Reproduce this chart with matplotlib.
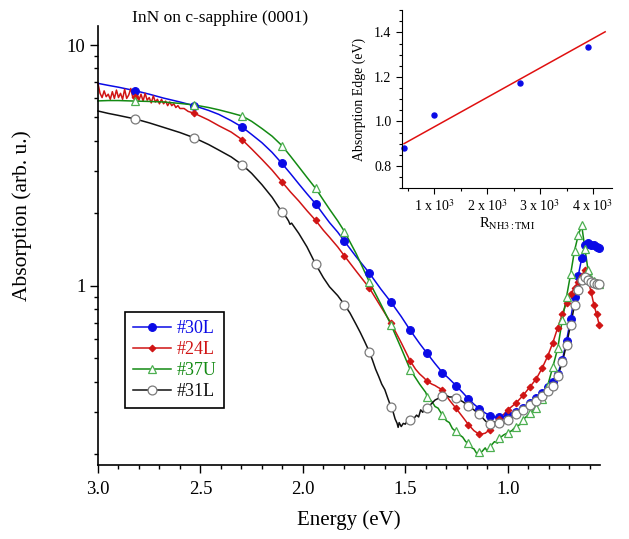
import numpy as np
import matplotlib
matplotlib.use('Agg')
import matplotlib.pyplot as plt
from matplotlib.lines import Line2D
from matplotlib.ticker import MultipleLocator, NullFormatter, FixedLocator, LogLocator, FormatStrFormatter

plt.rcParams['font.family'] = ['Liberation Serif', 'DejaVu Serif']
plt.rcParams['mathtext.fontset'] = 'stix'

# photon energies (eV) where the symbols sit
marker_e = [2.818, 2.531, 2.296, 2.102, 1.938, 1.797, 1.676, 1.570, 1.476, 1.393,
            1.319, 1.253, 1.192, 1.138, 1.088, 1.042, 1.000, 0.961, 0.925, 0.892,
            0.861, 0.832, 0.805, 0.780, 0.756, 0.734, 0.713, 0.693, 0.674, 0.656,
            0.639, 0.623, 0.608, 0.593, 0.579, 0.566, 0.554]

# #30L
e30 = [3.00, 2.95, 2.90, 2.818, 2.75, 2.68, 2.60, 2.531, 2.46, 2.41, 2.35, 2.296, 2.25, 2.20,
       2.15, 2.102, 2.06, 2.02, 1.98, 1.938, 1.90, 1.87, 1.83, 1.797, 1.74, 1.676, 1.62, 1.570,
       1.52, 1.476, 1.43, 1.393, 1.355, 1.319, 1.285, 1.253, 1.22, 1.192, 1.165, 1.138, 1.11,
       1.088, 1.065, 1.042, 1.02, 1.000, 0.961, 0.925, 0.892, 0.861, 0.832, 0.805, 0.780, 0.756,
       0.734, 0.713, 0.693, 0.674, 0.656, 0.639, 0.623, 0.608, 0.593, 0.579, 0.566, 0.554]
a30 = [6.93, 6.80, 6.68, 6.46, 6.25, 6.02, 5.80, 5.60, 5.35, 5.15, 4.85, 4.56, 4.25, 3.93,
       3.58, 3.22, 2.92, 2.65, 2.41, 2.19, 1.98, 1.83, 1.67, 1.53, 1.32, 1.13, 0.97, 0.855,
       0.745, 0.653, 0.575, 0.523, 0.475, 0.436, 0.41, 0.385, 0.36, 0.339, 0.322, 0.308, 0.296,
       0.289, 0.284, 0.285, 0.287, 0.29, 0.30, 0.311, 0.325, 0.343, 0.36, 0.378, 0.40, 0.43,
       0.49, 0.59, 0.73, 0.90, 1.10, 1.30, 1.47, 1.50, 1.48, 1.47, 1.45, 1.43]

# #24L
e24 = [3.00, 2.99, 2.98, 2.97, 2.96, 2.95, 2.94, 2.93, 2.92, 2.91, 2.90, 2.89, 2.88, 2.87,
       2.86, 2.85, 2.84, 2.83, 2.818, 2.81, 2.80, 2.79, 2.78, 2.77, 2.76, 2.75, 2.74, 2.73,
       2.72, 2.71, 2.70, 2.69, 2.68, 2.67, 2.66, 2.65, 2.64, 2.63, 2.62, 2.61, 2.60, 2.58,
       2.56, 2.531, 2.46, 2.41, 2.35, 2.296, 2.25, 2.20, 2.15, 2.102, 2.06, 2.02, 1.98, 1.938,
       1.90, 1.87, 1.83, 1.797, 1.74, 1.676, 1.62, 1.570, 1.52, 1.476, 1.45, 1.43, 1.41, 1.393,
       1.37, 1.355, 1.34, 1.319, 1.30, 1.285, 1.253, 1.22, 1.192, 1.165, 1.138, 1.11, 1.088,
       1.065, 1.042, 1.02, 1.000, 0.961, 0.925, 0.892, 0.861, 0.832, 0.805, 0.780, 0.756,
       0.734, 0.713, 0.693, 0.674, 0.656, 0.639, 0.623, 0.608, 0.593, 0.579, 0.566, 0.554]
a24 = [6.9, 6.3, 6.05, 6.45, 6.1, 6.25, 5.95, 6.4, 6.0, 6.5, 6.05, 6.3, 5.95, 6.55,
       6.0, 6.2, 6.6, 6.05, 6.10, 6.35, 5.9, 6.25, 5.85, 6.3, 5.9, 6.05, 5.75, 6.15,
       5.8, 5.95, 5.7, 5.95, 5.7, 5.85, 5.6, 5.8, 5.6, 5.7, 5.5, 5.6, 5.45, 5.45,
       5.3, 5.21, 4.88, 4.62, 4.35, 4.04, 3.70, 3.35, 3.02, 2.70, 2.45, 2.25, 2.05, 1.87,
       1.70, 1.59, 1.45, 1.33, 1.15, 0.98, 0.82, 0.70, 0.58, 0.487, 0.45, 0.43, 0.415, 0.401,
       0.39, 0.385, 0.378, 0.37, 0.35, 0.335, 0.31, 0.285, 0.265, 0.25, 0.241, 0.244, 0.252,
       0.265, 0.28, 0.292, 0.305, 0.325, 0.35, 0.38, 0.41, 0.455, 0.51, 0.58, 0.67,
       0.76, 0.85, 0.92, 0.98, 1.04, 1.10, 1.16, 1.06, 0.94, 0.83, 0.76, 0.69]

# #37U
e37 = [3.00, 2.95, 2.90, 2.818, 2.75, 2.68, 2.60, 2.531, 2.46, 2.41, 2.35, 2.296, 2.25, 2.20,
       2.15, 2.102, 2.06, 2.02, 1.98, 1.938, 1.90, 1.87, 1.83, 1.797, 1.74, 1.676, 1.62, 1.570,
       1.52, 1.476, 1.43, 1.40, 1.393, 1.37, 1.355, 1.34, 1.319, 1.30, 1.285, 1.27, 1.253,
       1.235, 1.22, 1.205, 1.192, 1.175, 1.165, 1.15, 1.138, 1.125, 1.11, 1.10, 1.088, 1.075,
       1.065, 1.05, 1.042, 1.02, 1.000, 0.98, 0.961, 0.94, 0.925, 0.892, 0.861, 0.832, 0.805,
       0.780, 0.756, 0.734, 0.713, 0.693, 0.674, 0.656, 0.639, 0.623, 0.608, 0.593, 0.579,
       0.566, 0.554]
a37 = [5.86, 5.88, 5.88, 5.85, 5.83, 5.80, 5.72, 5.64, 5.50, 5.38, 5.22, 5.07, 4.82, 4.50,
       4.18, 3.82, 3.45, 3.12, 2.82, 2.54, 2.27, 2.08, 1.86, 1.68, 1.36, 1.04, 0.84, 0.689,
       0.55, 0.448, 0.39, 0.36, 0.345, 0.33, 0.315, 0.31, 0.29, 0.275, 0.27, 0.255, 0.248,
       0.24, 0.235, 0.225, 0.222, 0.212, 0.21, 0.20, 0.203, 0.205, 0.212, 0.205, 0.213, 0.22,
       0.225, 0.222, 0.232, 0.24, 0.245, 0.25, 0.26, 0.265, 0.278, 0.295, 0.31, 0.34, 0.385,
       0.46, 0.55, 0.72, 0.90, 1.12, 1.40, 1.62, 1.78, 1.42, 1.16, 1.07, 1.05,
       1.03, 1.02]

# #31L
e31 = [3.00, 2.95, 2.90, 2.818, 2.75, 2.68, 2.60, 2.531, 2.46, 2.41, 2.35, 2.296, 2.25, 2.20,
       2.15, 2.102, 2.08, 2.07, 2.063, 2.055, 2.02, 1.98, 1.938, 1.90, 1.87, 1.83, 1.797, 1.77,
       1.74, 1.72, 1.70, 1.676, 1.66, 1.645, 1.63, 1.615, 1.60, 1.585, 1.570, 1.56, 1.55, 1.54,
       1.535, 1.53, 1.52, 1.51, 1.50, 1.49, 1.476, 1.465, 1.455, 1.445, 1.435, 1.425, 1.415,
       1.405, 1.393, 1.37, 1.355, 1.34, 1.319, 1.30, 1.285, 1.27, 1.253, 1.22, 1.192, 1.165,
       1.138, 1.11, 1.10, 1.088, 1.075, 1.065, 1.055, 1.042, 1.03, 1.02, 1.000, 0.98, 0.961,
       0.925, 0.892, 0.861, 0.832, 0.805, 0.780, 0.756, 0.734, 0.713, 0.693, 0.674, 0.656,
       0.639, 0.623, 0.608, 0.593, 0.579, 0.566, 0.554]
a31 = [5.32, 5.2, 5.1, 4.93, 4.75, 4.55, 4.33, 4.12, 3.86, 3.66, 3.43, 3.18, 2.93, 2.63,
       2.33, 2.02, 1.92, 1.86, 1.80, 1.82, 1.65, 1.45, 1.23, 1.08, 0.99, 0.91, 0.834, 0.77,
       0.69, 0.64, 0.59, 0.533, 0.49, 0.45, 0.42, 0.39, 0.37, 0.34, 0.314, 0.30, 0.28, 0.268,
       0.258, 0.27, 0.26, 0.268, 0.266, 0.275, 0.278, 0.272, 0.283, 0.29, 0.285, 0.305, 0.298,
       0.31, 0.311, 0.325, 0.335, 0.34, 0.347, 0.35, 0.345, 0.345, 0.342, 0.33, 0.317, 0.305,
       0.292, 0.275, 0.27, 0.266, 0.262, 0.272, 0.265, 0.27, 0.275, 0.268, 0.278, 0.283, 0.292,
       0.306, 0.32, 0.333, 0.348, 0.365, 0.385, 0.42, 0.48, 0.57, 0.69, 0.83, 0.96,
       1.06, 1.09, 1.06, 1.04, 1.03, 1.02, 1.02]

# inset: absorption edge vs NH3/TMI ratio
ratio = [430, 1000, 2630, 3900]
edge = [0.88, 1.03, 1.175, 1.335]
fit_ratio = [430, 4230]
fit_edge = [0.90, 1.403]

series = [
    ('#30L', e30, a30, dict(color='#0a0ae6', marker='o', ms=5.6, mfc='#0a0ae6', mec='#0a0ae6')),
    ('#24L', e24, a24, dict(color='#d01414', marker='D', ms=3.4, mfc='#d01414', mec='#d01414')),
    ('#37U', e37, a37, dict(color='#138a13', marker='^', ms=6.0, mfc='white', mec='#4caf50', mew=0.9)),
    ('#31L', e31, a31, dict(color='#111111', marker='o', ms=6.4, mfc='white', mec='#7a7a7a', mew=0.9)),
]

fig = plt.figure(figsize=(6.29, 5.39), dpi=100)
ax = fig.add_axes([0.1558, 0.1373, 0.798, 0.8145])

handles = []
for name, e, a, st in series:
    e = np.array(e)
    a = np.array(a)
    ax.plot(e, a, '-', color=st['color'], lw=1.1, clip_on=False, zorder=2)
    sel = np.isin(e, marker_e)
    ax.plot(e[sel], a[sel], linestyle='none', marker=st['marker'], ms=st['ms'],
            mfc=st['mfc'], mec=st['mec'], mew=st.get('mew', 0.8), clip_on=False, zorder=3)
    handles.append(Line2D([], [], color=st['color'], lw=1.1, marker=st['marker'], ms=st['ms'],
                          mfc=st['mfc'], mec=st['mec'], mew=st.get('mew', 0.8)))

ax.set_yscale('log')
ax.set_xlim(3.0, 0.55)
ax.set_ylim(0.18, 12)
ax.yaxis.set_major_locator(FixedLocator([1, 10]))
ax.yaxis.set_major_formatter(FormatStrFormatter('%g'))
ax.yaxis.set_minor_locator(LogLocator(base=10, subs=np.arange(2, 10)))
ax.yaxis.set_minor_formatter(NullFormatter())
ax.xaxis.set_major_locator(MultipleLocator(0.5))
ax.xaxis.set_minor_locator(MultipleLocator(0.1))
ax.xaxis.set_major_formatter(FormatStrFormatter('%.1f'))
ax.tick_params(which='major', direction='out', length=5.5, width=1.0, labelsize=13.5)
ax.tick_params(axis='x', which='major', pad=6)
ax.tick_params(which='minor', direction='out', length=3.2, width=1.0)
ax.spines['top'].set_visible(False)
ax.spines['right'].set_visible(False)
for s in ['left', 'bottom']:
    ax.spines[s].set_linewidth(1.2)

ax.set_xlabel('Energy (eV)', fontsize=15, labelpad=9)
fig.text(0.035, 0.600, 'Absorption (arb. u.)', rotation=90, fontsize=15.5, ha='center', va='center')
fig.text(0.35, 0.966, 'InN on c-sapphire (0001)', fontsize=12.5, ha='center', va='center')

leg = ax.legend(handles, [s[0] for s in series], loc='upper left',
                bbox_to_anchor=(125 / 629, 1 - 312 / 539), bbox_transform=fig.transFigure,
                fontsize=13, handlelength=2.1, labelspacing=0.22, borderpad=0.45,
                handletextpad=0.3, borderaxespad=0, fancybox=False, framealpha=1,
                edgecolor='black')
leg.get_frame().set_linewidth(1.2)
for txt, (_, _, _, st) in zip(leg.get_texts(), series):
    txt.set_color(st['color'])

# inset
ins = fig.add_axes([0.639, 0.651, 0.334, 0.330])
ins.plot(fit_ratio, fit_edge, '-', color='#e01010', lw=1.1)
ins.plot(ratio, edge, 'o', color='#0a0ae6', ms=3.6, clip_on=False)
ins.set_xlim(390, 4360)
ins.set_ylim(0.7, 1.5)
ins.xaxis.set_major_locator(FixedLocator([1000, 2000, 3000, 4000]))
ins.set_xticklabels([r'1 x 10$^{3}$', r'2 x 10$^{3}$', r'3 x 10$^{3}$', r'4 x 10$^{3}$'])
ins.xaxis.set_minor_locator(MultipleLocator(500))
ins.yaxis.set_major_locator(FixedLocator([0.8, 1.0, 1.2, 1.4]))
ins.yaxis.set_major_formatter(FormatStrFormatter('%.1f'))
ins.yaxis.set_minor_locator(MultipleLocator(0.05))
ins.tick_params(which='major', direction='out', length=4, width=0.8, labelsize=10)
ins.tick_params(which='minor', direction='out', length=2.5, width=0.8)
ins.spines['top'].set_visible(False)
ins.spines['right'].set_visible(False)
ins.set_xlabel(r'R$_{\mathrm{NH3{:}TMI}}$', fontsize=10.5, labelpad=1)
ins.set_ylabel('Absorption Edge (eV)', fontsize=10, labelpad=6)
ins.patch.set_alpha(0)

fig.savefig('out.png', dpi=100)
